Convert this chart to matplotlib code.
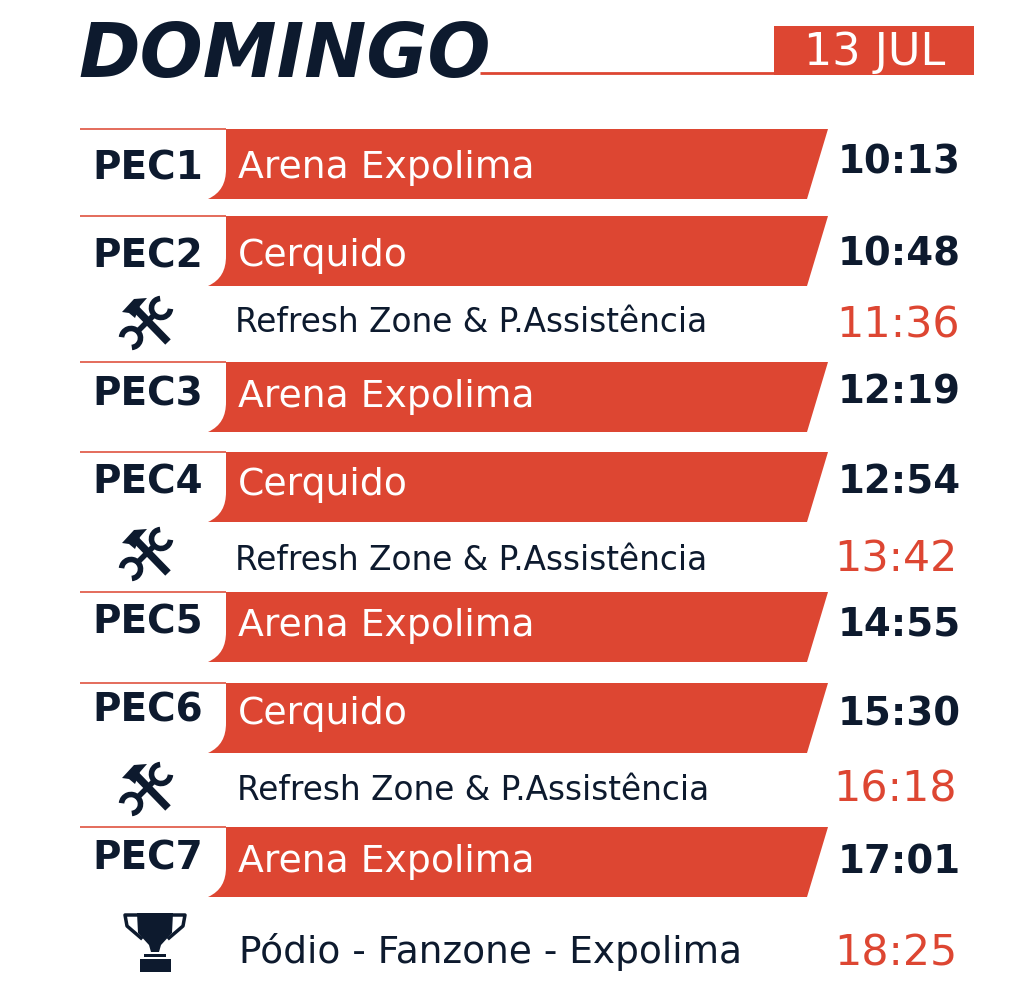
import matplotlib
matplotlib.use("Agg")
import matplotlib.pyplot as plt
from matplotlib.patches import PathPatch, Polygon, Rectangle, Arc
from matplotlib.path import Path

day = "DOMINGO"
date = "13 JUL"
stage_labels = ["PEC1", "PEC2", "PEC3", "PEC4", "PEC5", "PEC6", "PEC7"]
stage_names = ["Arena Expolima", "Cerquido", "Arena Expolima", "Cerquido",
               "Arena Expolima", "Cerquido", "Arena Expolima"]
stage_times = ["10:13", "10:48", "12:19", "12:54", "14:55", "15:30", "17:01"]
service_names = ["Refresh Zone & P.Assistência"] * 3
service_times = ["11:36", "13:42", "16:18"]
podium_name = "Pódio - Fanzone - Expolima"
podium_time = "18:25"

# layout, in pixels of the picture
stage_tops = [130, 217, 363, 453, 593, 684, 828]
label_y = [169, 257, 394, 482, 623, 711, 858]
name_y = [168, 256, 397, 485, 626, 714, 862]
time_y = [163, 254, 392, 482, 624, 715, 862]
time_x = [838, 838, 838, 838, 838, 838, 838]
service_y = [322, 560, 791]
service_x = [235, 235, 237]
service_time_y = [326, 560, 790]
service_time_x = [836, 834, 833]
icon_y = [323, 554, 789]

red = "#dd4632"
navy = "#0d1a2e"
band_h = 70

plt.rcParams['font.family'] = ['DejaVu Sans']
fig = plt.figure(figsize=(10.24, 9.87), dpi=100)
ax = fig.add_axes([0, 0, 1, 1])
ax.set_xlim(0, 1024)
ax.set_ylim(987, 0)
ax.axis("off")


def draw_band(top):
    bot = top + band_h
    verts = [(226, top), (828, top), (807, bot), (208, bot),
             (221, bot - 6), (226, bot - 16), (226, bot - 30), (226, top)]
    codes = [Path.MOVETO, Path.LINETO, Path.LINETO, Path.LINETO,
             Path.CURVE4, Path.CURVE4, Path.CURVE4, Path.CLOSEPOLY]
    ax.add_patch(PathPatch(Path(verts, codes), fc=red, ec="none"))
    ax.plot([80, 226], [top, top], color=red, lw=1.4, alpha=0.8, solid_capstyle="butt")


def draw_tools(cx, cy):
    # hammer
    ax.plot([cx - 12, cx + 21], [cy - 14, cy + 20], color=navy, lw=5.5, solid_capstyle="butt")
    ax.add_patch(Polygon([(cx - 25, cy - 10), (cx - 13, cy - 23), (cx, cy - 24),
                          (cx - 7, cy - 16), (cx - 12, cy - 4), (cx - 18, cy - 9)],
                         fc=navy, ec="none"))
    # wrench
    ax.plot([cx + 9, cx - 11], [cy - 9, cy + 11], color=navy, lw=4, solid_capstyle="butt")
    ax.add_patch(Arc((cx + 14, cy - 14), 19, 19, theta1=5, theta2=265, color=navy, lw=4))
    ax.add_patch(Arc((cx - 16, cy + 16), 19, 19, theta1=185, theta2=445, color=navy, lw=4))


def draw_trophy(cx, top):
    ax.add_patch(Polygon([(cx - 18, top), (cx + 18, top), (cx + 17, top + 20), (cx + 6, top + 32),
                          (cx + 4, top + 39), (cx - 4, top + 39), (cx - 6, top + 32), (cx - 17, top + 20)],
                         fc=navy, ec="none"))
    ax.add_patch(Rectangle((cx - 11, top + 41), 22, 3, fc=navy, ec="none"))
    ax.add_patch(Rectangle((cx - 15, top + 46), 31, 13, fc=navy, ec="none"))
    for sign in (-1, 1):
        ax.plot([cx + sign * 18, cx + sign * 30, cx + sign * 28, cx + sign * 14],
                [top + 2, top + 2, top + 13, top + 25],
                color=navy, lw=2.5, solid_joinstyle="round")


# header
ax.text(78, 77, day, color=navy, fontsize=53.5, fontweight="bold", style="italic",
        ha="left", va="baseline")
ax.plot([480, 775], [74, 74], color=red, lw=2, solid_capstyle="butt")
ax.add_patch(Rectangle((774, 27), 200, 49, fc=red, ec="none"))
ax.text(875, 52, date, color="white", fontsize=32, ha="center", va="center")

# stages
for i in range(len(stage_labels)):
    draw_band(stage_tops[i])
    ax.text(92, label_y[i], stage_labels[i], color=navy, fontsize=28,
            fontweight="bold", ha="left", va="center")
    ax.text(238, name_y[i], stage_names[i], color="white", fontsize=27.2, ha="left", va="center")
    ax.text(time_x[i], time_y[i], stage_times[i], color=navy, fontsize=27.8,
            fontweight="bold", ha="left", va="center")

# service parks
for i in range(len(service_names)):
    draw_tools(147, icon_y[i])
    ax.text(service_x[i], service_y[i], service_names[i], color=navy, fontsize=23.6,
            ha="left", va="center")
    ax.text(service_time_x[i], service_time_y[i], service_times[i], color=red, fontsize=30.8,
            ha="left", va="center")

# podium
draw_trophy(155, 914)
ax.text(239, 952, podium_name, color=navy, fontsize=27, ha="left", va="center")
ax.text(834, 954, podium_time, color=red, fontsize=30.8, ha="left", va="center")

fig.savefig("out.png", dpi=100)
